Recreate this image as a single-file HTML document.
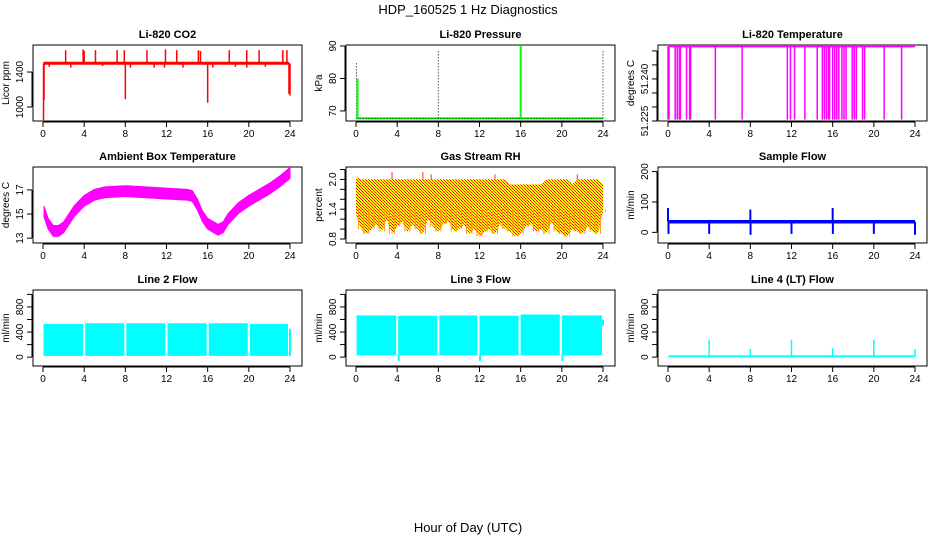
<!DOCTYPE html>
<html><head><meta charset="utf-8"><style>
body{margin:0;background:#fff}
svg{display:block;font-family:"Liberation Sans",sans-serif}
</style></head><body>
<svg id="c" width="936" height="540" xmlns="http://www.w3.org/2000/svg">
<defs>
<pattern id="rhpat" width="3" height="3" patternUnits="userSpaceOnUse">
<rect width="3" height="3" fill="#ffff00"/><rect x="0" y="0" width="1" height="1" fill="#ff0000"/><rect x="1" y="1" width="1" height="1" fill="#ff3000"/><rect x="2" y="2" width="1" height="1" fill="#ff0000"/>
</pattern>
</defs>
<text x="468" y="14" text-anchor="middle" font-size="13">HDP_160525  1 Hz Diagnostics</text>
<text x="468" y="532" text-anchor="middle" font-size="13">Hour of Day (UTC)</text>
</svg>
<script>
// ---- data ----
const xTicks = [0,4,8,12,16,20,24];
const co2Base = 1500;
const co2SpikeHours = [2.2,3.9,4.0,5.1,7.2,7.9,10.1,11.9,13.0,15.1,15.3,18.1,19.8,21.0,23.3,23.7];
const co2SpikeVals = [1650,1660,1640,1650,1650,1650,1650,1660,1650,1650,1640,1650,1650,1650,1650,1650];
const co2DipHours = [0.05,0.1,8.0,16.0,23.9,24.0,0.6,2.7,5.8,8.5,10.8,11.8,13.6,16.5,18.7,19.8,21.6];
const co2DipVals = [850,1080,1090,1050,1150,1130,1460,1450,1470,1450,1450,1450,1450,1450,1460,1450,1460];
const co2Ticks = [1000,1400];
const pressBase = 67.7;
const pressSpikeHours = [0.05,0.15,8.0,16.0,24.0];
const pressSpikeVals = [85,80,89,90,89];
const pressSpikeGreen = [false,true,false,true,false];
const pressTicks = [70,80,90];
const tempTop = 51.2515;
const tempDropHours = [0,0.1,0.7,0.9,1.1,1.2,1.8,2.1,2.2,4.6,7.2,11.6,11.9,12.3,13.3,14.5,15.0,15.2,15.4,15.6,15.7,16.0,16.2,16.4,16.6,16.9,17.1,17.3,17.9,18.1,18.3,18.9,19.1,21.0,22.7];
const tempDropVals = [51.2255,51.2255,51.2255,51.2255,51.2255,51.2255,51.2255,51.2255,51.2255,51.2255,51.2255,51.2255,51.2255,51.2255,51.2255,51.2255,51.2255,51.2255,51.2255,51.2255,51.2255,51.2255,51.2255,51.2255,51.2255,51.2255,51.2255,51.2255,51.2255,51.2255,51.2255,51.2255,51.2255,51.2255,51.2255];
const tempTicks = [51.225,51.230,51.235,51.240,51.245,51.250];
const tempTickLabels = ["51.225","","","51.240","",""];
const ambHours = [0.1,0.5,1,1.5,2,3,4,5,6,8,10,12,14,14.5,15,15.5,16,17,17.5,18,19,20,21,22,23,24];
const ambVals = [15.2,14.2,13.6,13.6,13.9,15.2,16.1,16.6,16.8,16.9,16.8,16.7,16.6,16.5,15.8,14.8,14.2,13.7,13.9,14.6,15.5,16.1,16.6,17.1,17.7,18.4];
const ambTicks = [13,15,17];
const rhHours = [0,0.5,1,1.5,2,2.5,3,3.5,4,4.5,5,5.5,6,6.5,7,7.5,8,8.5,9,9.5,10,10.5,11,11.5,12,12.5,13,13.5,14,14.5,15,15.5,16,16.5,17,17.5,18,18.5,19,19.5,20,20.5,21,21.5,22,22.5,23,23.5,24];
const rhTop = [2.05,2.0,2.0,2.0,2.0,2.0,2.0,2.0,2.0,2.0,2.0,2.0,2.0,2.0,2.0,2.0,2.0,2.0,2.0,2.0,2.0,2.0,2.0,2.0,2.0,2.0,2.0,2.0,2.0,2.0,1.9,1.9,1.9,1.9,1.9,1.9,1.9,2.0,2.0,2.0,2.0,2.0,1.9,2.0,2.0,2.0,2.0,2.0,1.9];
const rhBottom = [1.3,1.0,0.9,1.0,1.1,0.95,1.2,0.9,1.05,1.15,0.95,1.1,1.0,0.9,1.2,1.05,0.95,1.1,1.15,0.95,1.0,1.1,0.9,1.0,0.85,0.95,1.0,0.9,1.1,1.0,0.95,0.85,0.9,1.05,1.1,0.95,1.0,0.9,1.15,0.95,0.9,0.85,1.0,0.95,0.9,1.05,0.95,0.9,1.35];
const rhSpikeHours = [3.5,6.5,7.3,13.5,21.5];
const rhSpikeVals = [2.15,2.15,2.1,2.1,2.1];
const rhTicks = [0.8,1.0,1.2,1.4,1.6,1.8,2.0,2.2];
const rhTickLabels = ["0.8","","","1.4","","","2.0",""];
const sampleBase = 35;
const sampleSpikeHours = [0.0,0.05,4.0,8.0,8.02,12.0,16.0,16.02,20.0,24.0];
const sampleSpikeVals = [80,-5,-5,75,-8,-5,80,-5,-5,-8];
const sampleTicks = [0,100,200];
const flowTicks = [0,400,800];
const flowTickMinor = [0,200,400,600,800,1000];
const line2Starts = [0.05,4.1,8.1,12.1,16.1,20.1];
const line2Ends = [3.9,7.9,11.9,15.9,19.9,23.8];
const line2Tops = [530,540,540,540,540,530];
const line2Bottoms = [20,20,20,20,20,20];
const line3Starts = [0.05,4.1,8.1,12.0,16.0,20.0];
const line3Ends = [3.9,7.9,11.8,15.8,19.8,23.9];
const line3Tops = [665,660,665,660,680,665];
const line3Bottoms = [30,-60,30,-60,30,-60];
const line4Base = 12;
const line4SpikeHours = [4,8,12,16,20,24];
const line4SpikeVals = [280,130,280,140,280,130];

// ---- layout ----
const colX = [33,346,658], rowY = [45,167,290], W = 269, H = 76;
const svg = document.getElementById('c');
const NS = 'http://www.w3.org/2000/svg';
function el(tag, attrs, parent){const e=document.createElementNS(NS,tag);for(const k in attrs)e.setAttribute(k,attrs[k]);(parent||svg).appendChild(e);return e;}

function panel(col,row,title,ylab,ymin,ymax,ticks,labels,name,showXLabels){
  const L=colX[col],T=rowY[row];
  const g=el('g',{});
  
  
  const xs=h=>L+10+h*(247/24);
  const ys=v=>T+H-(v-ymin)/(ymax-ymin)*H;
  const t=el('text',{x:L+W/2,y:T-7,'text-anchor':'middle','font-size':11,'font-weight':'bold'},g);t.textContent=title;
  
  
  const b=el('rect',{x:L,y:T,width:W,height:H,fill:'none',stroke:'#000','stroke-width':1},g);
  
  
  const xa=el('g',{},g);
  
  
  el('line',{x1:xs(0),x2:xs(24),y1:T+H+1,y2:T+H+1,stroke:'#000'},xa);
  xTicks.forEach(h=>{el('line',{x1:xs(h),x2:xs(h),y1:T+H+1,y2:T+H+6,stroke:'#000'},xa);
    if(showXLabels){const tx=el('text',{x:xs(h),y:T+H+16,'text-anchor':'middle','font-size':10},xa);tx.textContent=h;}});
  const ya=el('g',{},g);
  
  
  const tv=ticks.filter(v=>v>=ymin&&v<=ymax);
  el('line',{x1:L-1,x2:L-1,y1:ys(tv[0]),y2:ys(tv[tv.length-1]),stroke:'#000'},ya);
  ticks.forEach((v,i)=>{if(v<ymin||v>ymax)return;const y=ys(v);el('line',{x1:L-6,x2:L-1,y1:y,y2:y,stroke:'#000'},ya);
    if(labels[i]){const tx=el('text',{x:L-10,y:y,'text-anchor':'middle','font-size':10,transform:`rotate(-90 ${L-10} ${y})`},ya);tx.textContent=labels[i];}});
  const yl=el('text',{x:L-24,y:T+H/2,'text-anchor':'middle','font-size':10,transform:`rotate(-90 ${L-24} ${T+H/2})`},g);yl.textContent=ylab;
  
  
  const s=el('g',{},g);
  
  
  return {xs,ys,g:s};
}
function vline(p,h,v1,v2,col,w,dash){const a={x1:p.xs(h),x2:p.xs(h),y1:p.ys(v1),y2:p.ys(v2),stroke:col,'stroke-width':w||1.5};if(dash)a['stroke-dasharray']=dash;return el('line',a,p.g);}

// CO2
let p=panel(0,0,'Li-820 CO2','Licor ppm',840,1709,co2Ticks,co2Ticks.map(String),'co2',true);
el('line',{x1:p.xs(0.05),x2:p.xs(23.9),y1:p.ys(co2Base),y2:p.ys(co2Base),stroke:'#ff0000','stroke-width':3},p.g);
co2SpikeHours.forEach((h,i)=>vline(p,h,co2Base,co2SpikeVals[i],'#ff0000',1.5));
co2DipHours.forEach((h,i)=>vline(p,h,co2Base,co2DipVals[i],'#ff0000',1.5));

// Pressure
p=panel(1,0,'Li-820 Pressure','kPa',66.9,90.3,pressTicks,pressTicks.map(String),'pressure',true);
el('line',{x1:p.xs(0.05),x2:p.xs(24),y1:p.ys(pressBase),y2:p.ys(pressBase),stroke:'#00ff00','stroke-width':2},p.g);
el('line',{x1:p.xs(0.05),x2:p.xs(24),y1:p.ys(pressBase),y2:p.ys(pressBase),stroke:'#000','stroke-width':1,'stroke-dasharray':'1 2'},p.g);
pressSpikeHours.forEach((h,i)=>{if(pressSpikeGreen[i])vline(p,h,pressBase,pressSpikeVals[i],'#00ff00',2);else vline(p,h,pressBase,pressSpikeVals[i],'#000',1,'1 2');});

// Li-820 temperature
p=panel(2,0,'Li-820 Temperature','degrees C',51.225,51.2521,tempTicks,tempTickLabels,'li820-temp',true);
el('line',{x1:p.xs(0),x2:p.xs(24),y1:p.ys(tempTop),y2:p.ys(tempTop),stroke:'#ff00ff','stroke-width':1.5},p.g);
tempDropHours.forEach((h,i)=>vline(p,h,tempTop,tempDropVals[i],'#ff00ff',1.5));

// Ambient
p=panel(0,1,'Ambient Box Temperature','degrees C',12.6,18.9,ambTicks,ambTicks.map(String),'ambient-temp',true);
{let up=ambHours.map((h,i)=>p.xs(h)+','+p.ys(ambVals[i]+0.45)).join(' ');
 let dn=ambHours.slice().reverse().map((h,i)=>p.xs(h)+','+p.ys(ambVals[ambVals.length-1-i]-0.45)).join(' ');
 el('polygon',{points:up+' '+dn,fill:'#ff00ff',stroke:'#ff00ff','stroke-width':1},p.g);}

// RH
p=panel(1,1,'Gas Stream RH','percent',0.72,2.25,rhTicks,rhTickLabels,'gas-stream-rh',true);
{let up=rhHours.map((h,i)=>p.xs(h)+','+p.ys(rhTop[i])).join(' ');
 let dn=rhHours.slice().reverse().map((h,i)=>p.xs(h)+','+p.ys(rhBottom[rhBottom.length-1-i])).join(' ');
 el('polygon',{points:up+' '+dn,fill:'url(#rhpat)'},p.g);
 rhHours.forEach((h,i)=>vline(p,h+0.25,1.4,Math.min(rhBottom[i],rhBottom[Math.min(i+1,rhBottom.length-1)]),'#ff9900',1));
 rhSpikeHours.forEach((h,i)=>vline(p,h,2.0,rhSpikeVals[i],'#ff3000',1));}

// Sample flow
p=panel(2,1,'Sample Flow','ml/min',-35,215,sampleTicks,sampleTicks.map(String),'sample-flow',true);
el('line',{x1:p.xs(0.05),x2:p.xs(24),y1:p.ys(sampleBase),y2:p.ys(sampleBase),stroke:'#0000ff','stroke-width':3.5},p.g);
sampleSpikeHours.forEach((h,i)=>vline(p,h,sampleBase,sampleSpikeVals[i],'#0000ff',2));

// Line 2
p=panel(0,2,'Line 2 Flow','ml/min',-141,1070,flowTickMinor,flowTickMinor.map(v=>flowTicks.includes(v)?String(v):''),'line2-flow',true);
line2Starts.forEach((s,i)=>el('rect',{x:p.xs(s),y:p.ys(line2Tops[i]),width:p.xs(line2Ends[i])-p.xs(s),height:p.ys(line2Bottoms[i])-p.ys(line2Tops[i]),fill:'#00ffff'},p.g));
vline(p,24,20,450,'#00ffff',2);

// Line 3
p=panel(1,2,'Line 3 Flow','ml/min',-141,1070,flowTickMinor,flowTickMinor.map(v=>flowTicks.includes(v)?String(v):''),'line3-flow',true);
line3Starts.forEach((s,i)=>{el('rect',{x:p.xs(s),y:p.ys(line3Tops[i]),width:p.xs(line3Ends[i])-p.xs(s),height:p.ys(30)-p.ys(line3Tops[i]),fill:'#00ffff'},p.g);
  vline(p,s+0.05,30,line3Bottoms[i],'#00ffff',2);});
vline(p,24,500,600,'#00ffff',2);

// Line 4
p=panel(2,2,'Line 4 (LT) Flow','ml/min',-141,1070,flowTickMinor,flowTickMinor.map(v=>flowTicks.includes(v)?String(v):''),'line4-flow',true);
el('line',{x1:p.xs(0.05),x2:p.xs(24),y1:p.ys(line4Base),y2:p.ys(line4Base),stroke:'#00ffff','stroke-width':2},p.g);
line4SpikeHours.forEach((h,i)=>vline(p,h,line4Base,line4SpikeVals[i],'#00ffff',1.5));
</script>
</body></html>
